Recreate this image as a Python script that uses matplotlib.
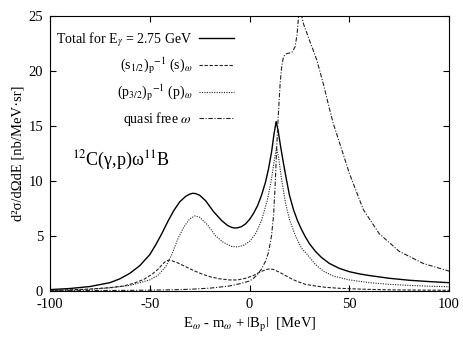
import matplotlib
matplotlib.use("Agg")
import matplotlib.pyplot as plt

plt.rcParams['font.family'] = ['Liberation Serif', 'DejaVu Serif']
plt.rcParams['mathtext.fontset'] = 'stix'

# Total cross section (solid)
x_total = [-100, -90, -80, -70, -65, -60, -55, -50, -47, -44, -41, -38, -35, -32, -30, -28.5, -27,
           -25, -22, -18, -14, -11, -9, -7.5, -6, -4, -2, 0, 2, 4, 6, 8, 9.5, 11, 12.2, 13.3,
           14.3, 15.5, 17, 18.5, 20, 22, 24, 26, 28, 30, 33, 36, 40, 45, 50, 55, 60, 70, 80, 90,
           100]
y_total = [0.12, 0.22, 0.4, 0.75, 1.1, 1.6, 2.3, 3.3, 4.2, 5.2, 6.3, 7.3, 8.1, 8.6, 8.8, 8.88,
           8.85, 8.7, 8.2, 7.2, 6.4, 5.95, 5.78, 5.72, 5.74, 5.85, 6.1, 6.5, 7.05, 7.75, 8.7, 9.9,
           11.1, 12.6, 14.2, 15.4, 14.6, 13.2, 11.6, 10.1, 8.7, 7.4, 6.4, 5.6, 4.9, 4.3, 3.6, 3.05,
           2.5, 2.05, 1.75, 1.55, 1.4, 1.15, 0.97, 0.85, 0.75]

# (s1/2)p^-1 (s)omega (dashed)
x_s = [-100, -90, -80, -70, -63, -58, -53, -49, -46, -43.5, -42, -40.5, -39, -36, -32, -28, -24,
       -20, -15, -10, -6, -2, 2, 5, 8, 10, 12, 15, 18, 21, 24, 28, 33, 38, 45, 50, 60, 70, 80,
       90, 100]
y_s = [0.05, 0.1, 0.17, 0.3, 0.45, 0.7, 1.05, 1.5, 1.95, 2.45, 2.7, 2.8, 2.75, 2.55, 2.2, 1.85,
       1.55, 1.3, 1.1, 1.0, 1.0, 1.15, 1.4, 1.7, 1.93, 2.0, 1.95, 1.7, 1.4, 1.1, 0.85, 0.6, 0.45,
       0.33, 0.24, 0.2, 0.14, 0.1, 0.08, 0.07, 0.06]

# (p3/2)p^-1 (p)omega (dotted)
x_p = [-100, -90, -80, -70, -60, -55, -50, -46, -42, -39, -36, -33, -30, -27.5, -25, -21, -17,
       -13, -9, -6, -3, 0, 3, 6, 9, 11, 12.5, 13.5, 14.5, 16, 18, 20, 23, 26, 29, 33, 37, 42,
       50, 60, 70, 80, 90, 100]
y_p = [0.04, 0.08, 0.15, 0.28, 0.5, 0.75, 1.0, 1.4, 2.2, 3.3, 4.7, 5.8, 6.55, 6.82, 6.7, 6.0,
       5.0, 4.4, 4.05, 4.0, 4.15, 4.5, 5.2, 6.4, 8.3, 10.2, 12.0, 13.0, 12.2, 10.2, 8.0, 6.5,
       5.0, 3.9, 3.3, 2.4, 1.8, 1.35, 1.0, 0.75, 0.6, 0.5, 0.43, 0.38]

# quasi free omega (dash-dot)
x_qf = [-100, -80, -60, -50, -40, -30, -20, -10, -5, 0, 2, 4, 6, 8, 9.5, 11, 12, 12.8, 13.6,
        14.4, 15.3, 16.1, 16.9, 17.8, 19, 20.3, 21.5, 22.8, 23.8, 24.8, 25.8, 27, 30, 33.7, 37,
        40, 42, 45.4, 50, 57, 65, 75, 87, 100]
y_qf = [0.02, 0.03, 0.05, 0.07, 0.1, 0.15, 0.25, 0.45, 0.65, 0.9, 1.15, 1.5, 2.0, 2.7, 3.5, 5.0,
        6.8, 9.5, 13.0, 16.0, 18.8, 20.4, 21.2, 21.5, 21.6, 21.65, 21.75, 22.2, 23.3, 25.5, 25.3,
        24.3, 22.8, 21.0, 18.8, 16.6, 15.2, 13.3, 10.7, 7.4, 5.2, 3.6, 2.5, 1.8]

labels = [r'Total for E$_\gamma$ = 2.75 GeV',
          r'(s$_{1/2}$)$_{\rm p}$$^{-1}$ (s)$_\omega$',
          r'(p$_{3/2}$)$_{\rm p}$$^{-1}$ (p)$_\omega$',
          r'quasi free $\omega$']
x_ticks = [-100, -50, 0, 50, 100]
y_ticks = [0, 5, 10, 15, 20, 25]

fig = plt.figure(figsize=(4.63, 3.48), dpi=100)
ax = fig.add_axes([0.108, 0.164, 0.862, 0.790])

ax.plot(x_total, y_total, color='black', lw=1.0, ls='-', label=labels[0])
ax.plot(x_s, y_s, color='#222222', lw=0.8, ls=(0, (3, 1.5)), label=labels[1])
ax.plot(x_p, y_p, color='#222222', lw=0.8, ls=(0, (1, 1.2)), label=labels[2])
ax.plot(x_qf, y_qf, color='#222222', lw=0.8, ls=(0, (4, 1.5, 1, 1.5)), label=labels[3])

ax.set_xlim(-100, 100)
ax.set_ylim(0, 25)
ax.set_xticks(x_ticks)
ax.set_xticklabels([str(v) for v in x_ticks])
ax.set_yticks(y_ticks)
ax.tick_params(direction='in', top=True, right=True, length=4, width=0.8, labelsize=10.5, pad=5)
for s in ax.spines.values():
    s.set_linewidth(0.8)

ax.set_xlabel(r'E$_\omega$ - m$_\omega$ + ǀB$_{\rm p}$ǀ  [MeV]', fontsize=10.5, labelpad=4)
ax.set_ylabel('d²σ/dΩdE [nb/MeV·sr]', fontsize=10.5, labelpad=3)

ax.text(-89, 11.9, r'$^{12}$C(γ,p)ω$^{11}$B', fontsize=13, va='center', ha='left')

leg = ax.legend(loc='upper right', bbox_to_anchor=(0.475, 0.968), frameon=False,
                markerfirst=False, fontsize=10, handlelength=2.5, handletextpad=0.5,
                labelspacing=0.5, borderaxespad=0)

fig.savefig('out.png', dpi=100)
